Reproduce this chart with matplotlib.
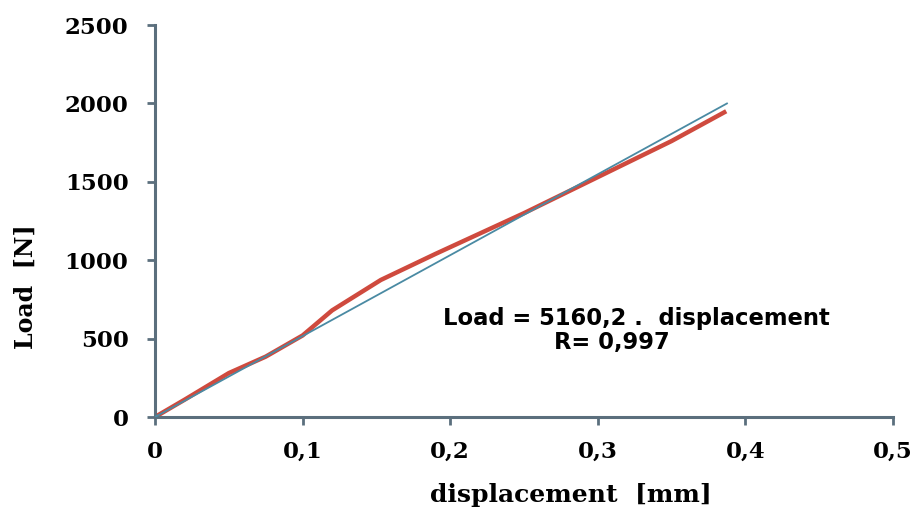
import matplotlib
matplotlib.use("Agg")
import matplotlib.pyplot as plt
import numpy as np

# measured curve
displacement = [0, 0.02, 0.05, 0.075, 0.1, 0.12, 0.153, 0.19, 0.25, 0.3, 0.35, 0.387]
load = [0, 110, 280, 385, 520, 680, 874, 1040, 1300, 1530, 1760, 1950]
# linear fit
fit_slope = 5160.2
fit_x = [0, 0.3875]
x_ticks = [0, 0.1, 0.2, 0.3, 0.4, 0.5]
x_labels = ["0", "0,1", "0,2", "0,3", "0,4", "0,5"]
y_ticks = [0, 500, 1000, 1500, 2000, 2500]
y_labels = ["0", "500", "1000", "1500", "2000", "2500"]

fig = plt.figure(figsize=(9.23, 5.12), dpi=100)
ax = fig.add_axes([155/923, 1-417/512, (893-155)/923, (417-25)/512])

spine_c = "#5b6f7d"
ax.plot(displacement, load, color="#cf4a3e", lw=3.2, solid_capstyle="butt",
        solid_joinstyle="round", zorder=2)
ax.plot(fit_x, [fit_slope*v for v in fit_x], color="#4a8aa3", lw=1.3, zorder=3)

ax.set_xlim(0, 0.5)
ax.set_ylim(0, 2500)
ax.set_xticks(x_ticks)
ax.set_xticklabels(x_labels)
ax.set_yticks(y_ticks)
ax.set_yticklabels(y_labels)

for s in ["top", "right"]:
    ax.spines[s].set_visible(False)
for s in ["left", "bottom"]:
    ax.spines[s].set_color(spine_c)
    ax.spines[s].set_linewidth(2.2)
ax.tick_params(axis="both", colors=spine_c, width=2, length=6, direction="out")
ax.tick_params(axis="y", pad=13, labelcolor="black")
ax.tick_params(axis="x", pad=11, labelcolor="black")
for lab in ax.get_xticklabels() + ax.get_yticklabels():
    lab.set_fontfamily("DejaVu Serif")
    lab.set_fontweight("heavy")
    lab.set_fontsize(16.5)

ax.set_xlabel("displacement  [mm]", fontfamily="DejaVu Serif", fontweight="bold", fontsize=18)
ax.xaxis.set_label_coords((571-155)/(893-155), -(495-417)/392)
ax.xaxis.label.set_va("center")
ax.set_ylabel("Load  [N]", fontfamily="DejaVu Serif", fontweight="bold", fontsize=17)
ax.yaxis.set_label_coords(-(155-26)/738, (417-287)/392)
ax.yaxis.label.set_va("center")

txt_kw = dict(ha="center", va="center", fontfamily="DejaVu Sans", fontweight="bold", fontsize=16.3)
ax.text(0.3259, 631, "Load = 5160,2 .  displacement", **txt_kw)
ax.text(0.3096, 472, "R= 0,997", **txt_kw)

fig.savefig("out.png", dpi=100)
